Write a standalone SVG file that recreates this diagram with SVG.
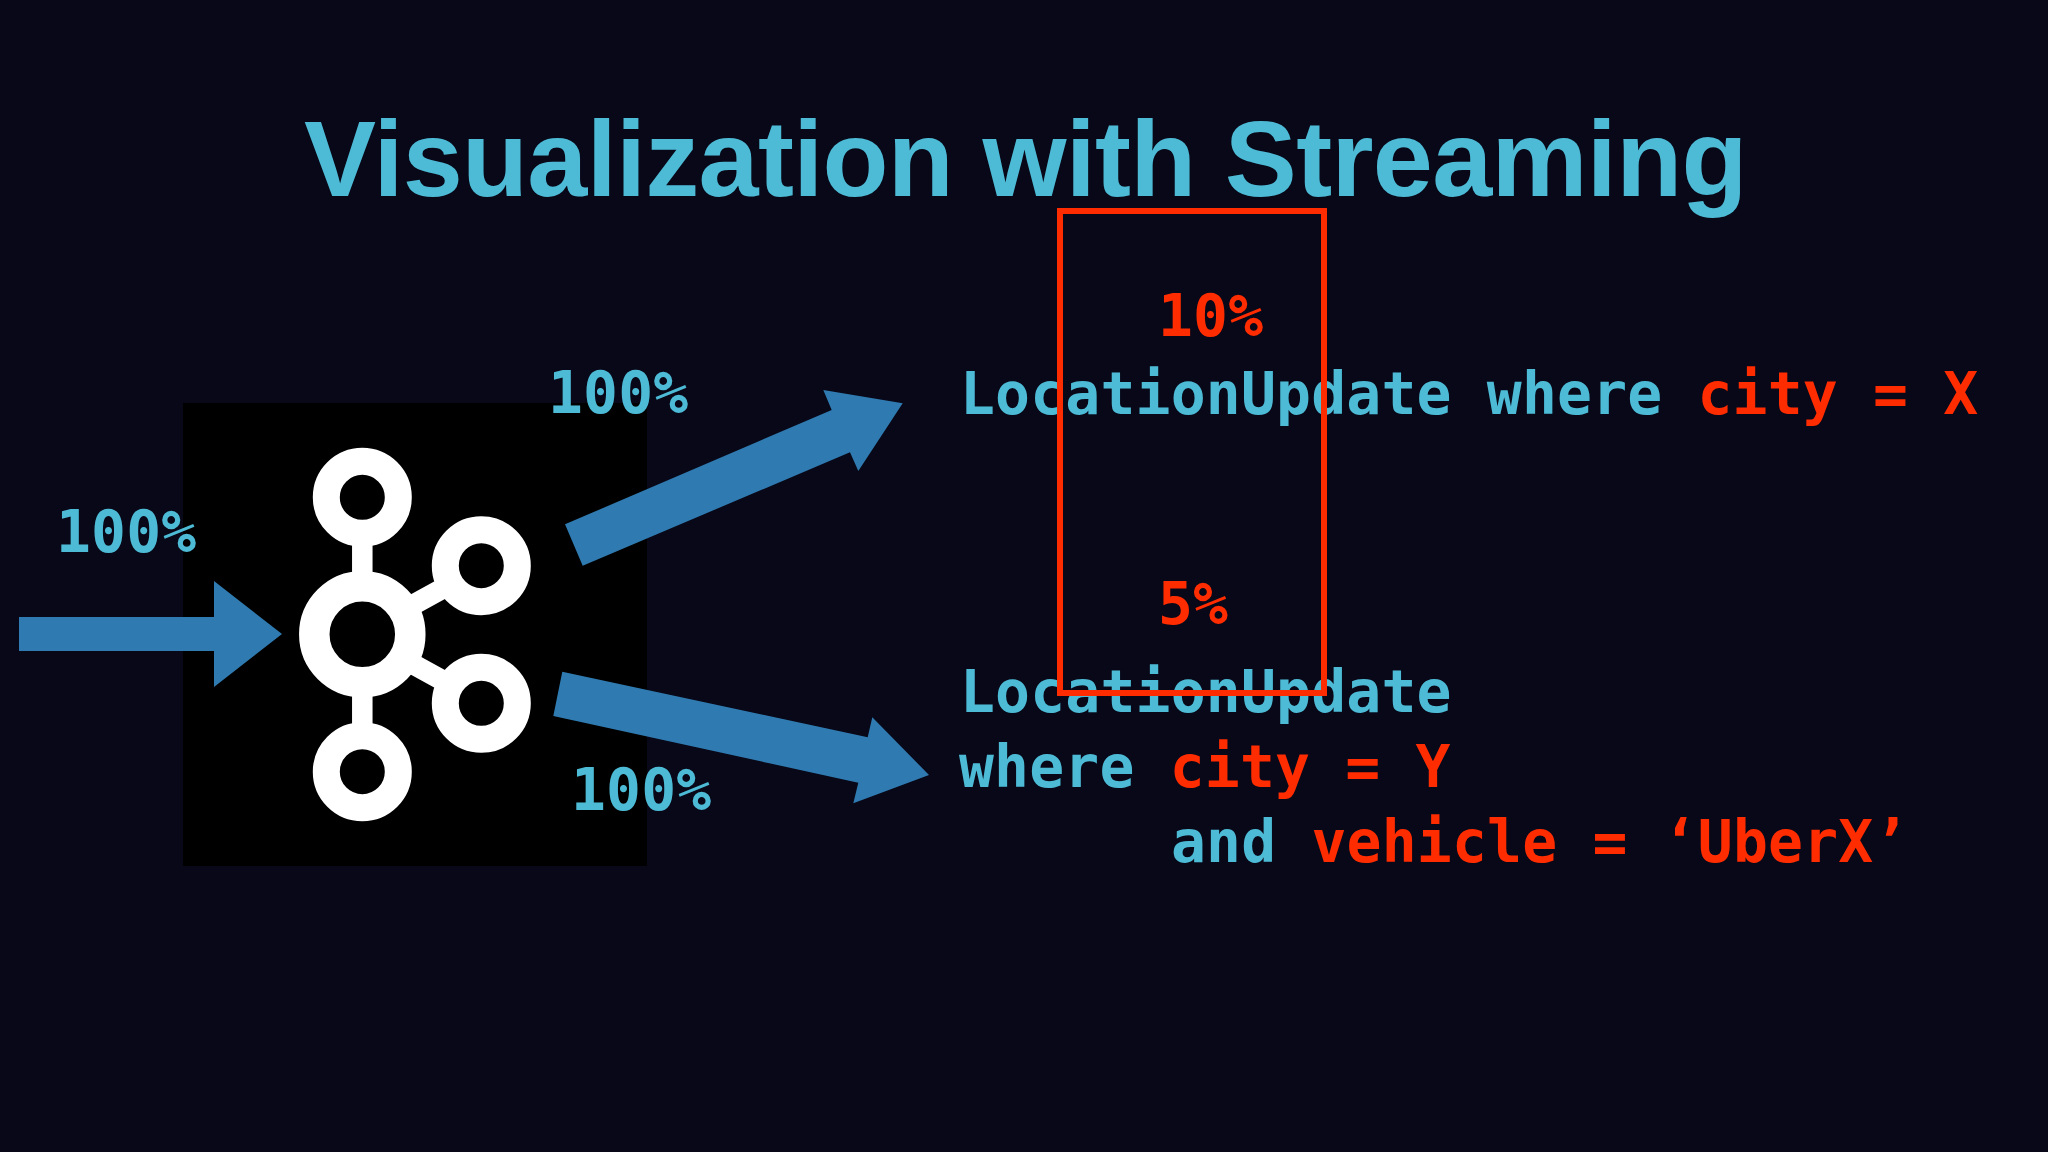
<svg xmlns="http://www.w3.org/2000/svg" width="2048" height="1152" viewBox="0 0 2048 1152">
<style>
.m{font-family:"DejaVu Sans Mono",monospace;font-size:58px;font-weight:700;letter-spacing:.2px;fill:#4dbbd6}
.r{fill:#ff2c00}
.t{font-family:"Liberation Sans",Arial,sans-serif;font-weight:700;font-size:108px;letter-spacing:-.7px;fill:#4dbbd6}
.a{fill:#2f7bb1}
.w{fill:none;stroke:#fff}
</style>
<rect width="2048" height="1152" fill="#080818"/>
<text id="title" class="t" x="304" y="196">Visualization with Streaming</text>
<g id="kafka">
<rect x="183" y="403" width="464" height="463" fill="#000"/>
<g class="w" stroke-width="20.500"><path d="M362.300 530V590M362.300 680V740M400 612L460 579M400 657L460 690"/></g>
<g class="w" stroke-width="30.500"><circle cx="362.300" cy="634.300" r="48"/></g>
<g class="w" stroke-width="27"><circle cx="362.300" cy="497.300" r="36"/><circle cx="362.300" cy="771.700" r="36"/><circle cx="481.300" cy="565.700" r="36"/><circle cx="481.300" cy="703.300" r="36"/></g>
</g>
<g id="connectors">
<polygon class="a" points="19,617 214,617 214,581 282,634 214,687 214,651 19,651"/>
<polygon class="a" points="565,524.300 831.700,410 823.300,390 902.700,403.300 858.300,471 850,452.300 582.700,565.700"/>
<polygon class="a" points="562.300,671.700 867.700,737.300 872.300,717.300 929,775 853.300,803.300 858.300,782.700 553.300,716"/>
</g>
<text id="pct-in" class="m" x="56" y="552">100%</text>
<text id="pct-up" class="m" x="548" y="413">100%</text>
<text id="pct-down" class="m" x="571" y="810">100%</text>
<text id="pct-10" class="m r" x="1158" y="336">10%</text>
<text id="pct-5" class="m r" x="1158" y="624">5%</text>
<text id="q1" class="m" x="960" y="414" xml:space="preserve">LocationUpdate where <tspan class="r">city = X</tspan></text>
<text id="q2a" class="m" x="960" y="712">LocationUpdate</text>
<text id="q2b" class="m" x="959" y="787" xml:space="preserve">where <tspan class="r">city = Y</tspan></text>
<text id="q2c" class="m" x="1171" y="862" xml:space="preserve">and <tspan class="r">vehicle = ‘UberX’</tspan></text>
<rect id="highlight" x="1060" y="211" width="264" height="482" fill="none" stroke="#ff2c00" stroke-width="6"/>
</svg>
